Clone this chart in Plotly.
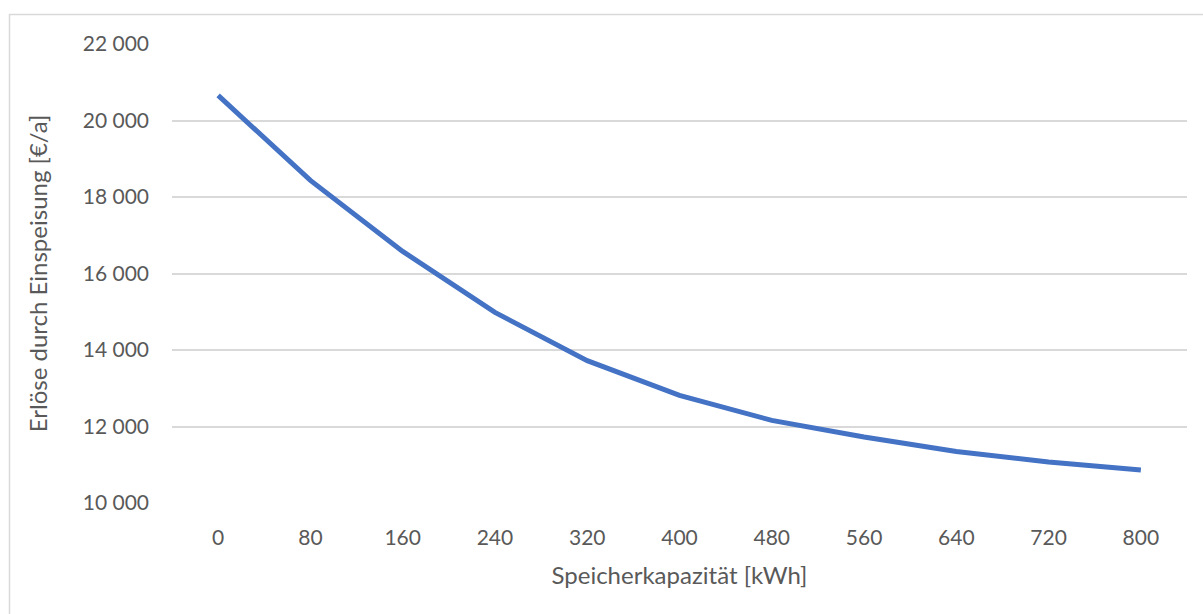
import plotly.graph_objects as go

# Speicherkapazität [kWh] and annual feed-in revenue [€/a]
kapazitaet = ["0", "80", "160", "240", "320", "400", "480", "560", "640", "720", "800"]
erloese = [20656, 18434, 16578, 14983, 13720, 12813, 12160, 11725, 11349, 11072, 10863]

W, H = 1203, 614
ML, MR, MT, MB = 172, 16, 44, 111
pw, ph = W - ML - MR, H - MT - MB

grey = "#595959"
font_family = "Lato, 'Open Sans', sans-serif"

fig = go.Figure()
fig.add_trace(go.Scatter(
    x=kapazitaet, y=erloese, mode="lines",
    line=dict(color="#4472C4", width=5),
    hoverinfo="x+y",
))

# light frame around the chart area
def px_to_paper_x(px):
    return (px - ML) / pw

def px_to_paper_y(py):
    return (H - MB - py) / ph

fig.add_shape(type="rect", xref="paper", yref="paper",
              x0=px_to_paper_x(9.5), x1=px_to_paper_x(1215),
              y0=px_to_paper_y(625), y1=px_to_paper_y(14.5),
              line=dict(color="#d9d9d9", width=1.5), fillcolor="rgba(0,0,0,0)", layer="below")

fig.update_layout(
    width=W, height=H,
    margin=dict(l=ML, r=MR, t=MT, b=MB),
    paper_bgcolor="white", plot_bgcolor="white",
    separators=", ",
    showlegend=False,
    font=dict(family=font_family, size=21, color=grey),
    xaxis=dict(
        type="category", range=[-0.5, 10.5],
        showgrid=False, zeroline=False, showline=False, ticks="",
        ticklabelstandoff=20,
        title=dict(text="Speicherkapazität [kWh]", standoff=19, font=dict(size=24, color=grey)),
    ),
    yaxis=dict(
        range=[10000, 22000], dtick=2000, tickformat=",d",
        showgrid=True, gridcolor="#d9d9d9", gridwidth=1.5,
        zeroline=False, showline=False, ticks="",
        ticklabelstandoff=22,
        title=dict(text="Erlöse durch Einspeisung [€/a]", standoff=28, font=dict(size=24, color=grey)),
    ),
)

fig.write_html("out.html")
